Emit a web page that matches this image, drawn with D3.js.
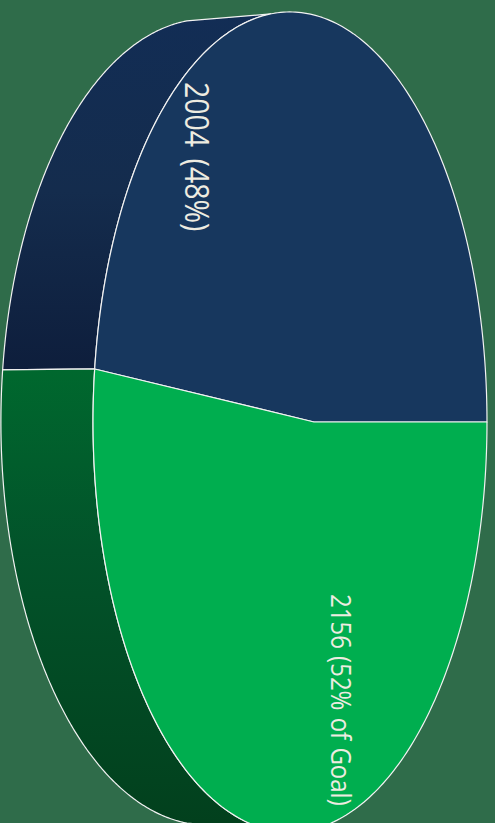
<!DOCTYPE html>
<html>
<head>
<meta charset="utf-8">
<script src="https://cdn.jsdelivr.net/npm/d3@7"></script>
<style>html,body{margin:0;padding:0;background:#2f6c4a;overflow:hidden}svg{display:block}</style>
</head>
<body>
<script>
const categories = ["Remaining", "Raised"];
const values = [2004, 2156];
const labels = ["2004 (48%)", "2156 (52% of Goal)"];
const faceColors = ["#17375e", "#00ae4f"];
const wallStops = [
  [["#122d55", 0], ["#142c4d", 0.5], ["#0e1e3c", 1]],
  [["#00682e", 0], ["#02532a", 0.4], ["#02401d", 1]]
];

const W = 495, H = 823;
const svg = d3.select("body").append("svg").attr("width", W).attr("height", H);
svg.append("rect").attr("width", W).attr("height", H).attr("fill", "#2f6c4a");
const defs = svg.append("defs");

const k = 0.1218, cy = 422;
const front = { A: 232.3, B: 314, D: 407 };
const back = { A: 231.2, B: 232, D: 400 };
const project = (p, a) => {
  const den = 1 + k * Math.cos(a);
  return [(p.A * Math.cos(a) + p.B) / den, cy - p.D * Math.sin(a) / den];
};
const silhouette = 102.5 * Math.PI / 180;

const pie = d3.pie().sort(null).startAngle(Math.PI / 2).endAngle(Math.PI / 2 - 2 * Math.PI);
const arcs = pie(values).map(d => ({ a0: Math.PI / 2 - d.startAngle, a1: Math.PI / 2 - d.endAngle }));
const line = d3.line();
const samples = (p, from, to) => d3.range(0, 201).map(i => project(p, from + (to - from) * i / 200));

const walls = [
  [silhouette, arcs[0].a1],
  [arcs[1].a0, 2 * Math.PI - silhouette]
];

walls.forEach((w, i) => {
  const g = defs.append("linearGradient").attr("id", "wall" + i)
    .attr("gradientUnits", "userSpaceOnUse")
    .attr("x1", 0).attr("x2", 0)
    .attr("y1", i === 0 ? 12 : 370).attr("y2", i === 0 ? 370 : 823);
  wallStops[i].forEach(s => g.append("stop").attr("offset", s[1]).attr("stop-color", s[0]));
  const pts = samples(back, w[0], w[1]).concat(samples(front, w[1], w[0]));
  svg.append("path").attr("d", line(pts) + "Z")
    .attr("fill", `url(#wall${i})`)
    .attr("stroke", "#f2f2f2").attr("stroke-width", 1.2).attr("stroke-linejoin", "round");
});

arcs.forEach((d, i) => {
  const centre = [front.B, cy];
  svg.append("path").attr("d", line([centre].concat(samples(front, d.a0, d.a1))) + "Z")
    .attr("fill", faceColors[i])
    .attr("stroke", "#f2f2f2").attr("stroke-width", 1.2).attr("stroke-linejoin", "round");
});

const labelPlace = [
  { x: 185, y: 82, size: 28.5, sy: 1.18, ws: 4 },
  { x: 331, y: 594, size: 24, sy: 1.17, ws: 1 }
];
labels.forEach((t, i) => {
  const p = labelPlace[i];
  svg.append("text").text(t)
    .attr("transform", `translate(${p.x},${p.y}) rotate(90) scale(1,${p.sy})`)
    .attr("font-family", "'Open Sans'").attr("font-size", p.size)
    .attr("word-spacing", p.ws)
    .attr("fill", "#eeece1");
});
</script>
</body>
</html>
